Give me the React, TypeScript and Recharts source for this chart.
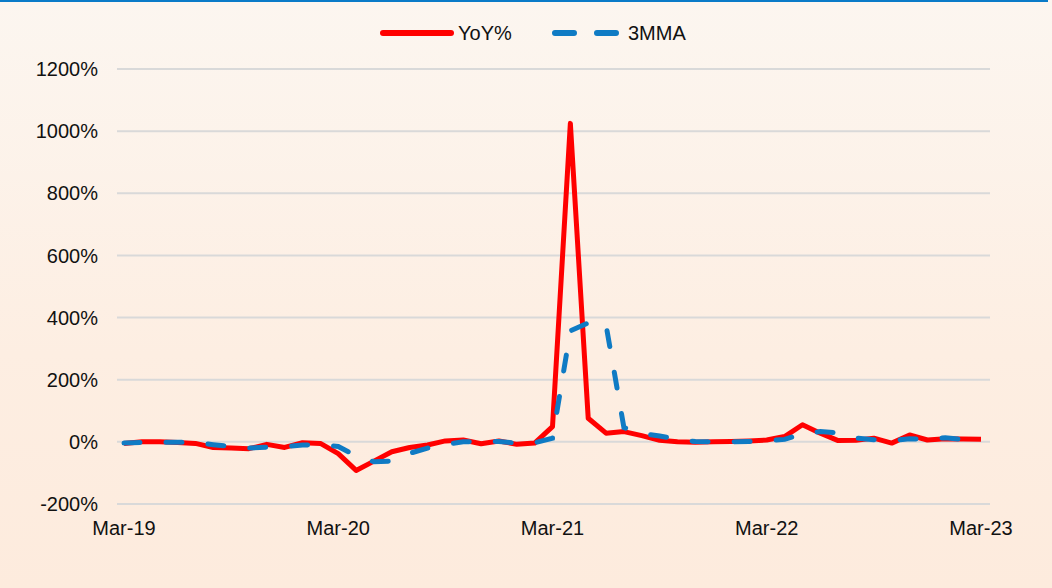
import { LineChart, Line, XAxis, YAxis, CartesianGrid } from 'recharts';

// monthly, Mar-19 .. Mar-23
const monthNames = ['Jan', 'Feb', 'Mar', 'Apr', 'May', 'Jun', 'Jul', 'Aug', 'Sep', 'Oct', 'Nov', 'Dec'];
const months: string[] = [];
for (let i = 0; i < 49; i++) {
  const m = (2 + i) % 12;
  const y = 19 + Math.floor((2 + i) / 12);
  months.push(`${monthNames[m]}-${y}`);
}

const yoy = [
  -5, 0, 0, -2, -5, -18, -20, -22, -8, -18, -3, -5,
  -38, -92, -62, -32, -18, -10, 3, 6, -6, 3, -8, -4,
  49, 1025, 76, 28, 33, 20, 5, 0, -1, 0, 1, 3,
  6, 17, 55, 28, 4, 5, 12, -4, 22, 6, 10, 9,
  8,
];

const mma3 = [
  -4, -2, -1, -1, -3, -9, -15, -20, -17, -16, -10, -9,
  -15, -45, -64, -62, -37, -20, -8, 0, 1, 1, -4, -3,
  12, 357, 383, 376, 46, 27, 19, 8, 1, 0, 0, 1,
  3, 8, 26, 33, 29, 12, 7, 4, 10, 8, 13, 8,
  9,
];

const yTicks = [-200, 0, 200, 400, 600, 800, 1000, 1200];

const data = months.map((label, i) => ({ label, yoy: yoy[i], mma: mma3[i] }));

const FONT = '"Liberation Sans", Arial, sans-serif';
const RED = '#FF0000';
const BLUE = '#0F7BC4';

export default function App() {
  return (
    <div
      style={{
        position: 'absolute',
        left: 0,
        top: 0,
        width: 1052,
        height: 588,
        background: 'linear-gradient(180deg, #FCF6F0 0%, #FDEEE2 60%, #FDEBDD 100%)',
        fontFamily: FONT,
      }}
    >
      <div style={{ position: 'absolute', left: 0, top: 0, width: 1048, height: 2, background: '#0A7BC8' }} />
      <svg width={1052} height={60} style={{ position: 'absolute', left: 0, top: 0 }}>
        <line x1={383} y1={33} x2={451} y2={33} stroke={RED} strokeWidth={6} strokeLinecap="round" />
        <text x={458} y={40} fontSize={20} fill="#111" fontFamily={FONT}>YoY%</text>
        <line x1={555} y1={33} x2={617} y2={33} stroke={BLUE} strokeWidth={6} strokeLinecap="round" strokeDasharray="19 23" />
        <text x={628} y={40} fontSize={20} fill="#111" fontFamily={FONT}>3MMA</text>
      </svg>
      <LineChart
        width={1052}
        height={588}
        data={data}
        margin={{ top: 69, right: 62, left: 0, bottom: 54 }}
        style={{ position: 'absolute', left: 0, top: 0 }}
      >
        <CartesianGrid vertical={false} stroke="#D9D9D9" strokeWidth={2} />
        <XAxis
          dataKey="label"
          interval={11}
          height={30}
          padding={{ left: 7, right: 9 }}
          axisLine={false}
          tickLine={false}
          tickMargin={11}
          tick={{ fontSize: 20, fill: '#111', fontFamily: FONT }}
        />
        <YAxis
          domain={[-200, 1200]}
          ticks={yTicks}
          width={117}
          axisLine={false}
          tickLine={false}
          tickMargin={13}
          tickFormatter={(v: number) => `${v}%`}
          tick={{ fontSize: 20, fill: '#111', fontFamily: FONT }}
        />
        <Line
          dataKey="yoy"
          stroke={RED}
          strokeWidth={5}
          dot={false}
          isAnimationActive={false}
          strokeLinejoin="round"
        />
        <Line
          dataKey="mma"
          stroke={BLUE}
          strokeWidth={5}
          dot={false}
          strokeDasharray="16 26"
          strokeLinecap="round"
          isAnimationActive={false}
        />
      </LineChart>
    </div>
  );
}
